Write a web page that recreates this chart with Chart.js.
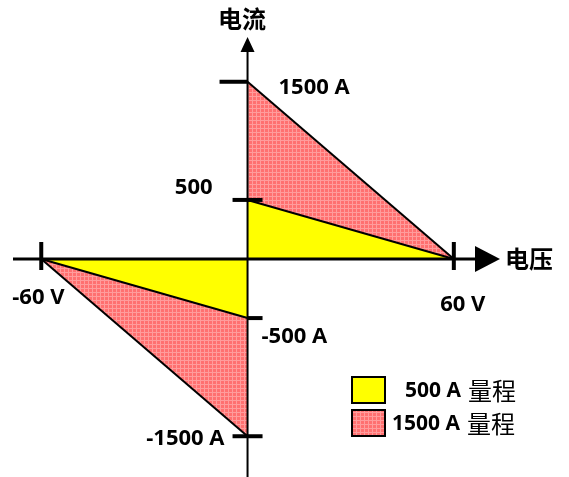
<!DOCTYPE html>
<html>
<head>
<meta charset="utf-8">
<script src="https://cdn.jsdelivr.net/npm/chart.js@4/dist/chart.umd.min.js"></script>
<style>
  html, body { margin: 0; padding: 0; background: #fff; }
  #wrap { width: 569px; height: 477px; }
</style>
</head>
<body>
<div id="wrap"><canvas id="chart" width="569" height="477"></canvas></div>
<script>
// ── DATA ──
const rangeNames    = ['500 A 量程', '1500 A 量程'];
const rangeVoltage  = [60, 60];        // V
const rangeCurrent  = [500, 1500];     // A
const xTicks        = [-60, 60];
const xTickLabels   = ['-60 V', '60 V'];
const yTicks        = [1500, 500, -500, -1500];
const yTickLabels   = ['1500 A', '500', '-500 A', '-1500 A'];
const xTitle = '电压';
const yTitle = '电流';

// ── STYLE ──
const LATIN = '"Open Sans", "Liberation Sans", sans-serif';
const CJK   = '"Noto Sans CJK SC", sans-serif';

function makeRedPattern() {
    const c = document.createElement('canvas');
    c.width = 4; c.height = 4;
    const g = c.getContext('2d');
    g.fillStyle = '#ff7070';
    g.fillRect(0, 0, 4, 4);
    g.fillStyle = '#ff9c9c';
    g.fillRect(0, 0, 4, 1);
    g.fillRect(0, 0, 1, 4);
    return g.createPattern(c, 'repeat');
}
const redFill = makeRedPattern();
const fills = ['#ffff00', redFill];

// build triangles: each range gives a positive and a negative leg, filled to y=0
// (first dataset is drawn on top, so the small range goes first)
const datasets = [];
[0, 1].forEach(i => {
    const V = rangeVoltage[i], I = rangeCurrent[i];
    [[{x: 0, y: I}, {x: V, y: 0}], [{x: -V, y: 0}, {x: 0, y: -I}]].forEach(pts => {
        datasets.push({
            label: rangeNames[i],
            data: pts,
            showLine: true,
            fill: 'origin',
            backgroundColor: fills[i],
            borderColor: '#000',
            borderWidth: 2,
            pointRadius: 0,
            tension: 0
        });
    });
});

// per-tick stub extents (px, relative to axis)
const yTickSpan = [[-28, 0], [-15, 15], [0, 15], [-15, 15]];
const yLabelPos = [[31, 6, 'left'], [-35, -12, 'right'], [14, 19, 'left'], [-23, 2, 'right']];
const xLabelPos = [[-29, 39, 'left'], [9, 46, 'center']];

const axesPlugin = {
    id: 'axes',
    afterDatasetsDraw(chart) {
        const ctx = chart.ctx;
        const xs = chart.scales.x, ys = chart.scales.y;
        const ox = xs.getPixelForValue(0), oy = ys.getPixelForValue(0);
        ctx.save();
        ctx.strokeStyle = '#000';
        ctx.fillStyle = '#000';

        // x axis
        ctx.lineWidth = 3;
        ctx.beginPath();
        ctx.moveTo(13, oy); ctx.lineTo(478, oy);
        ctx.stroke();
        ctx.beginPath();
        ctx.moveTo(475, oy - 13); ctx.lineTo(500, oy); ctx.lineTo(475, oy + 13);
        ctx.closePath(); ctx.fill();

        // y axis
        ctx.lineWidth = 2;
        ctx.beginPath();
        ctx.moveTo(ox, 50); ctx.lineTo(ox, 477);
        ctx.stroke();
        ctx.beginPath();
        ctx.moveTo(ox - 7, 52); ctx.lineTo(ox, 37); ctx.lineTo(ox + 7, 52);
        ctx.closePath(); ctx.fill();

        // tick stubs
        ctx.lineWidth = 4;
        yTicks.forEach((v, i) => {
            const py = ys.getPixelForValue(v);
            ctx.beginPath();
            ctx.moveTo(ox + yTickSpan[i][0], py); ctx.lineTo(ox + yTickSpan[i][1], py);
            ctx.stroke();
        });
        xTicks.forEach(v => {
            const px = xs.getPixelForValue(v);
            ctx.beginPath();
            ctx.moveTo(px, oy - 17); ctx.lineTo(px, oy + 11);
            ctx.stroke();
        });

        // tick labels
        ctx.font = 'bold 22px ' + LATIN;
        ctx.textBaseline = 'middle';
        yTicks.forEach((v, i) => {
            const py = ys.getPixelForValue(v);
            ctx.textAlign = yLabelPos[i][2];
            ctx.fillText(yTickLabels[i], ox + yLabelPos[i][0], py + yLabelPos[i][1]);
        });
        xTicks.forEach((v, i) => {
            const px = xs.getPixelForValue(v);
            ctx.textAlign = xLabelPos[i][2];
            ctx.fillText(xTickLabels[i], px + xLabelPos[i][0], oy + xLabelPos[i][1]);
        });

        // axis titles
        ctx.font = 'bold 24px ' + CJK;
        ctx.textAlign = 'left';
        ctx.fillText(yTitle, 218, 19);
        ctx.fillText(xTitle, 505, oy);

        // legend
        const boxX = 352, boxW = 33, boxH = 26;
        const rowY = [377, 410];
        const textLeft = [405, 392];
        [0, 1].forEach(i => {
            ctx.fillStyle = fills[i];
            ctx.fillRect(boxX, rowY[i], boxW, boxH);
            ctx.lineWidth = 2;
            ctx.strokeStyle = '#000';
            ctx.strokeRect(boxX, rowY[i], boxW, boxH);
            const parts = rangeNames[i].split(' ');
            const latin = parts[0] + ' ' + parts[1];
            ctx.fillStyle = '#000';
            ctx.textAlign = 'left';
            ctx.font = 'bold 21px ' + LATIN;
            const cy = rowY[i] + boxH / 2 + 1;
            ctx.fillText(latin, textLeft[i], cy);
            const w = ctx.measureText(latin).width;
            ctx.font = '24px ' + CJK;
            ctx.fillText(parts[2], textLeft[i] + w + 7, cy);
        });
        ctx.restore();
    }
};

new Chart(document.getElementById('chart'), {
    type: 'scatter',
    data: { datasets },
    options: {
        responsive: false,
        animation: false,
        layout: { padding: 0 },
        plugins: { legend: { display: false }, tooltip: { enabled: false } },
        scales: {
            x: { type: 'linear', display: false, min: -72, max: 93.5 },
            y: { type: 'linear', display: false, min: -1845, max: 2192 }
        }
    },
    plugins: [axesPlugin]
});
</script>
</body>
</html>
